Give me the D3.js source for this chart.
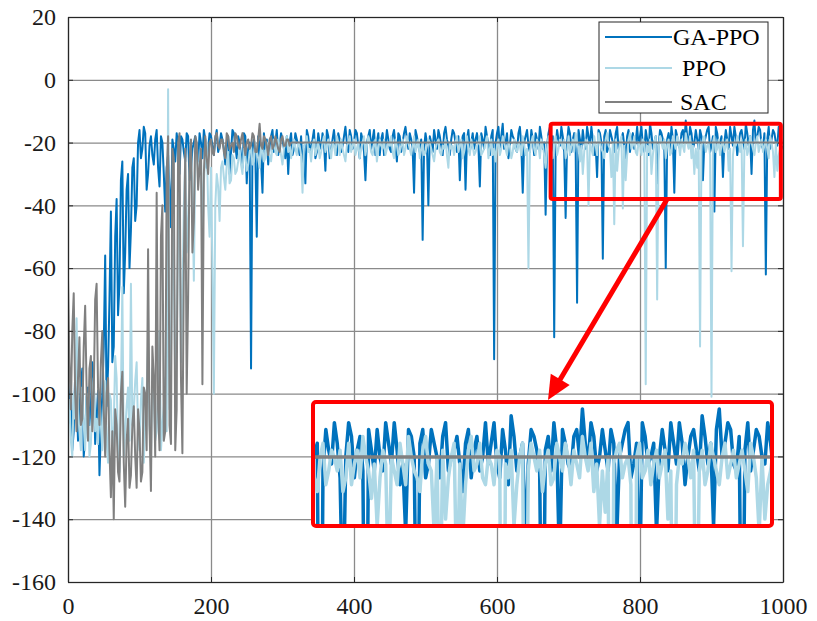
<!DOCTYPE html>
<html>
<head>
<meta charset="utf-8">
<title>Reward curves</title>
<script src="https://d3js.org/d3.v7.min.js"></script>
<style>
  body { margin: 0; background: #fff; }
  text { font-family: "Liberation Serif", "Times New Roman", serif; }
</style>
</head>
<body>
<script>
    // reward per episode, one value every 2 episodes (episode = index * 2)
    var gaPpo = [
        -110, -102, -96, -118, -112, -94, -100, -115, -105, -98, -92, -120, -114, -101, -98, -110, -104, -90, -95, -116, -108,
        -99, -126, -112, -100, -85, -56, -104, -92,
        -70, -42, -90, -85, -50, -38, -75, -65, -32, -26, -68, -55, -35, -30, -60, -48, -28, -25, -45, -40,
        -20, -16, -25, -22, -15, -17, -35, -30, -21, -18, -24, -27, -19, -16, -28, -34, -18, -20, -30, -42,
        -28, -24, -35, -47, -19, -22, -26, -17, -21, -30, -18, -19, -23, -26, -17, -18, -32, -29, -22, -20,
        -18, -22, -26, -17, -20, -25, -16, -19, -28, -22, -17, -18, -21, -24, -19, -16, -23, -21, -17, -19,
        -22, -27, -20, -18, -30, -23, -16, -17, -21, -25, -18, -20, -24, -28, -17, -18, -33, -22, -20, -92,
        -21, -19, -24, -50, -18, -21, -26, -36, -17, -22,
        -19, -27, -21, -18, -16, -23, -20, -16, -24, -21, -17, -19, -22, -25, -18, -30, -20, -17, -24, -22,
        -17, -19, -21, -24, -18, -28, -22, -33, -16, -18, -23, -21, -19, -16, -25, -23, -17, -20, -22, -17,
        -20, -29, -16, -18, -25, -22, -19, -16, -21, -24, -17, -19, -23, -21, -18, -15, -20, -23, -16, -18,
        -22, -20, -16, -17, -21, -25, -17, -19, -23, -32, -20, -18, -16, -22, -19, -16, -24, -20, -17, -24,
        -19, -17, -24, -21, -16, -19, -22, -23, -18, -16, -21, -26, -17, -18, -23, -20, -17, -15, -19, -22,
        -17, -19, -22, -36, -16, -18, -21, -23, -19, -51, -22, -17, -20, -40, -18, -20, -23, -16, -19, -22,
        -16, -18, -21, -24, -17, -15, -19, -21, -24, -19, -16, -17, -20, -23, -18, -32, -21, -18, -17, -35,
        -19, -16, -23, -20, -17, -22, -19, -17, -21, -34, -17, -19, -22, -15, -18, -21, -24, -18, -16, -89,
        -20, -17, -15, -22, -18, -14, -22, -20, -17, -25, -21, -16, -18, -19, -22, -23, -17, -15, -21, -36,
        -20, -18, -16, -21, -23, -16, -19, -24, -17, -19, -22, -15, -18, -22, -20, -43, -21, -17, -15, -20,
        -18, -82, -22, -16, -19, -21, -15, -18, -23, -44, -20, -15, -17, -23, -19, -17, -22, -71, -16, -19,
        -22, -16, -20, -22, -15, -18, -21, -15, -19, -24, -21, -31, -16, -17, -20, -57, -18, -16, -23, -21,
        -16, -18, -20, -23, -17, -15, -22, -20, -19, -17, -21, -25, -18, -16, -23, -19, -17, -22, -20, -15,
        -21, -18, -15, -21, -23, -16, -19, -24, -14, -17, -22, -20, -18, -33, -21, -16, -17, -19, -22, -60,
        -19, -17, -22, -15, -19, -36, -16, -18, -21, -22, -17, -16, -20, -13, -18, -21, -15, -17, -22, -20,
        -16, -19, -22, -16, -18, -32, -20, -18, -16, -15, -23, -21, -18, -42, -15, -17, -21, -20, -18, -31,
        -20, -16, -19, -22, -15, -18, -21, -15, -18, -24, -20, -17, -16, -19, -22, -14, -17, -21, -18, -30,
        -16, -13, -20, -18, -15, -16, -21, -22, -17, -62, -19, -15, -22, -19, -16, -17, -20, -21, -15, -18, -22, -20
    ];

    var ppo = [
        -110, -102, -115, -120, -100, -108, -76, -105, -112, -118, -98, -110, -118, -100, -104, -120, -116, -102, -95, -112, -108,
        -116, -100, -110, -118, -104, -96, -115, -122, -100, -102, -120, -110, -88, -95, -118, -125, -100, -66, -120, -112,
        -104, -98, -115, -65, -110, -105, -96, -90, -112, -118, -102, -95, -122, -108, -100, -84, -110, -120, -92, -100,
        -115, -112, -100, -80, -118, -110, -104, -95, -112, -3, -105, -90, -45, -60, -98, -85, -50, -35, -90, -70,
        -40, -25, -55, -45, -30, -22, -35, -64, -26, -20, -28, -30, -22, -52, -33, -24, -20, -40, -50, -28,
        -60, -100, -40, -30, -34, -45, -28, -26, -31, -35, -27, -23, -33, -32, -24, -25, -30, -29, -26, -22,
        -27, -30, -22, -24, -29, -27, -23, -21, -27, -26, -20, -23, -25, -28, -21, -22, -26, -25,
        -20, -22, -24, -26, -21, -19, -23, -24, -19, -21, -24, -27, -22, -20, -18, -23, -21, -25, -22, -19,
        -22, -24, -20, -21, -24, -36, -21, -20, -18, -23, -22, -26, -21, -19, -24, -22, -20, -25, -23, -20,
        -18, -23, -21, -19, -22, -25, -20, -21, -24, -18, -20, -24, -19, -22, -24, -26, -21, -20, -18, -23,
        -21, -19, -24, -22, -20, -25, -22, -20, -18, -24, -21, -18, -20, -23, -24, -21, -19, -26, -22, -19,
        -21, -22, -19, -24, -22, -20, -21, -18, -23, -25, -19, -21, -24, -23, -21, -19, -24, -22, -18, -20,
        -22, -24, -21, -18, -23, -21, -19, -25, -22, -20, -24, -23, -21, -19, -20, -22, -24, -26, -22, -20,
        -19, -23, -24, -21, -22, -19, -24, -28, -20, -22, -21, -24, -20, -18, -23, -21, -19, -25, -23, -20,
        -18, -22, -24, -19, -21, -24, -23, -21, -20, -18, -24, -23, -22, -20, -18, -25, -22, -19, -24, -22,
        -26, -21, -19, -24, -22, -18, -20, -22, -24, -20, -21, -25, -23, -19, -22, -23, -20, -21, -24, -18,
        -21, -24, -22, -60, -23, -20, -18, -22, -24, -19, -21, -25, -19, -21, -24, -28, -22, -18, -20, -23,
        -25, -20, -18, -24, -22, -19, -20, -22, -19, -25, -23, -18, -24, -21, -19, -23, -17, -20, -22, -26,
        -21, -30, -23, -19, -21, -40, -20, -22, -24, -18, -21, -24, -17, -20, -22, -23, -25, -19, -17, -21,
        -22, -31, -20, -46, -19, -29, -23, -20, -18, -41, -21, -32, -24, -19, -17, -22, -21, -18, -23, -24,
        -20, -21, -24, -19, -20, -97, -21, -23, -19, -30, -24, -20, -18, -70, -22, -18, -20, -22, -19, -25,
        -21, -19, -24, -23, -18, -20, -22, -18, -20, -24, -19, -21, -23, -17, -20, -22, -18, -25, -21, -30,
        -22, -28, -20, -85, -21, -19, -18, -23, -21, -20, -24, -101, -20, -18, -23, -22, -19, -24, -21, -19,
        -23, -21, -19, -29, -22, -61, -24, -20, -21, -18, -20, -23, -19, -53, -22, -19, -24, -22, -18, -20,
        -22, -24, -20, -18, -23, -21, -19, -23, -21, -19, -22, -25, -18, -20, -23, -31, -20, -29, -24, -22, -19, -21
    ];

    var sac = [
        -63, -90, -105, -80, -68, -100, -112, -95, -82, -110, -108, -85, -72, -98, -115, -92, -88, -112, -100, -70,
        -65, -98, -110, -90, -80, -105, -120, -100, -95, -118, -133, -112, -140, -105, -110, -125, -128, -100, -93, -122,
        -136, -115, -108, -130, -126, -110, -104, -120, -130, -105, -112, -128, -125, -98, -100, -118, -54, -110, -131, -85,
        -95, -120, -36, -105, -118, -50, -40, -115, -112, -30, -18, -110, -116, -22, -25, -118, -105, -20, -17, -95,
        -119, -60, -22, -100, -70, -25, -19, -55, -45, -18, -20, -35, -28, -22, -97, -30, -18, -25, -30, -20,
        -19, -23, -24, -18, -17, -21, -22, -19, -19, -23, -25, -17, -18, -22, -21, -20, -23, -17, -18, -21,
        -22, -19, -17, -21, -24, -20, -19, -22, -21, -17, -18, -23, -23, -19, -14, -21, -22, -18, -19, -21,
        -24, -19, -18, -22, -21, -18, -20, -22, -23, -19, -18, -21, -21, -19, -19, -21, -20
    ];
    var sacSettled = -20;   // SAC stays flat at this value until episode 1000

    var seriesNames = ["GA-PPO", "PPO", "SAC"];
    var xTicks = [0, 200, 400, 600, 800, 1000];
    var yTicks = [20, 0, -20, -40, -60, -80, -100, -120, -140, -160];
    var zoomEpisodes = [675, 997];
    var zoomBox = [-14, -38];         // red box drawn on the main plot
    var zoomInsetRange = [-30, -12];  // y range shown in the enlarged inset

    var width = 817,
        height = 621,
        plotLeft = 68, plotRight = 783, plotTop = 17, plotBottom = 582,
        colors = ["#0072BD", "#ADD8E6", "#808080"],
        gridColor = "#8a8a8a",
        axisColor = "#262626",
        red = "#ff0000",
        serif = "'Liberation Serif', 'Times New Roman', serif",
        step = 2;

    function toPoints(values) {
        return values.map(function (v, i) { return {ep: i * step, v: v}; });
    }
    var series = [toPoints(gaPpo), toPoints(ppo), toPoints(sac).concat([{ep: 1000, v: sacSettled}])];

    var svg = d3.select("body").append("svg")
        .attr("width", width)
        .attr("height", height);

    var x = d3.scaleLinear().domain([0, 1000]).range([plotLeft, plotRight]);
    var y = d3.scaleLinear().domain([-160, 20]).range([plotBottom, plotTop]);

    // grid
    svg.append("g")
        .attr("transform", "translate(0," + plotBottom + ")")
        .call(d3.axisBottom(x).tickValues(xTicks).tickSize(-(plotBottom - plotTop)).tickFormat(""))
        .call(function (g) {
            g.select(".domain").remove();
            g.selectAll("line").attr("stroke", gridColor).attr("stroke-width", 1.3);
        });
    svg.append("g")
        .attr("transform", "translate(" + plotLeft + ",0)")
        .call(d3.axisLeft(y).tickValues(yTicks).tickSize(-(plotRight - plotLeft)).tickFormat(""))
        .call(function (g) {
            g.select(".domain").remove();
            g.selectAll("line").attr("stroke", gridColor).attr("stroke-width", 1.3);
        });

    svg.append("clipPath").attr("id", "plotClip")
        .append("rect")
        .attr("x", plotLeft).attr("y", plotTop)
        .attr("width", plotRight - plotLeft).attr("height", plotBottom - plotTop);

    var line = d3.line()
        .x(function (d) { return x(d.ep); })
        .y(function (d) { return y(d.v); });

    var plot = svg.append("g").attr("clip-path", "url(#plotClip)");
    series.forEach(function (s, k) {
        plot.append("path")
            .datum(s)
            .attr("fill", "none")
            .attr("stroke", colors[k])
            .attr("stroke-width", 2)
            .attr("stroke-linejoin", "round")
            .attr("d", line);
    });

    // axes with inward ticks on all four sides
    function styleAxis(g) {
        g.attr("font-family", serif).attr("font-size", 24);
        g.select(".domain").attr("stroke", axisColor).attr("stroke-width", 1.2);
        g.selectAll(".tick line").attr("stroke", axisColor);
        g.selectAll("text")
            .attr("fill", "#1a1a1a")
            .style("font-size", "24px")
            .style("font-family", serif);
    }
    var fmt = function (d) { return String(d); };
    svg.append("g")
        .attr("transform", "translate(0," + plotBottom + ")")
        .call(d3.axisBottom(x).tickValues(xTicks).tickSizeInner(-5).tickSizeOuter(0).tickPadding(15).tickFormat(fmt))
        .call(styleAxis);
    svg.append("g")
        .attr("transform", "translate(" + plotLeft + ",0)")
        .call(d3.axisLeft(y).tickValues(yTicks).tickSizeInner(-5).tickSizeOuter(0).tickPadding(12).tickFormat(fmt))
        .call(styleAxis);
    svg.append("g")
        .attr("transform", "translate(0," + plotTop + ")")
        .call(d3.axisTop(x).tickValues(xTicks).tickSizeInner(-5).tickSizeOuter(0).tickFormat(""))
        .call(styleAxis);
    svg.append("g")
        .attr("transform", "translate(" + plotRight + ",0)")
        .call(d3.axisRight(y).tickValues(yTicks).tickSizeInner(-5).tickSizeOuter(0).tickFormat(""))
        .call(styleAxis);

    // legend
    var legend = svg.append("g").attr("transform", "translate(599,22)");
    legend.append("rect")
        .attr("width", 169).attr("height", 91)
        .attr("fill", "#fff").attr("stroke", axisColor).attr("stroke-width", 1);
    var legendRows = [15, 46, 80];
    var legendTextX = [74, 83, 81];
    seriesNames.forEach(function (name, k) {
        legend.append("line")
            .attr("x1", 6).attr("x2", 73)
            .attr("y1", legendRows[k]).attr("y2", legendRows[k])
            .attr("stroke", colors[k]).attr("stroke-width", 2);
        legend.append("text")
            .attr("x", legendTextX[k]).attr("y", legendRows[k] + 8)
            .attr("fill", "#000")
            .style("font-size", "24px")
            .style("font-family", serif)
            .text(name);
    });

    // red box marking the zoomed region
    var bx0 = x(zoomEpisodes[0]), bx1 = x(zoomEpisodes[1]);
    var by0 = y(zoomBox[0]), by1 = y(zoomBox[1]);
    svg.append("rect")
        .attr("x", bx0).attr("y", by0)
        .attr("width", bx1 - bx0).attr("height", by1 - by0)
        .attr("rx", 2)
        .attr("fill", "none").attr("stroke", red).attr("stroke-width", 4);

    // inset with the enlarged region
    var ix0 = 313, ix1 = 772, iy0 = 402, iy1 = 526;
    var xi = d3.scaleLinear().domain(zoomEpisodes).range([ix0, ix1]);
    var yi = d3.scaleLinear().domain(zoomInsetRange).range([iy1, iy0]);

    svg.append("rect")
        .attr("x", ix0).attr("y", iy0)
        .attr("width", ix1 - ix0).attr("height", iy1 - iy0)
        .attr("fill", "#fff");
    svg.append("clipPath").attr("id", "insetClip")
        .append("rect")
        .attr("x", ix0).attr("y", iy0)
        .attr("width", ix1 - ix0).attr("height", iy1 - iy0);

    var insetLine = d3.line()
        .x(function (d) { return xi(d.ep); })
        .y(function (d) { return yi(d.v); });
    var inset = svg.append("g").attr("clip-path", "url(#insetClip)");
    var insetWidths = [3.5, 3.5, 3.5];
    series.forEach(function (s, k) {
        var part = s.filter(function (d) { return d.ep >= zoomEpisodes[0] - step && d.ep <= zoomEpisodes[1] + step; });
        if (k === 2) {
            part = [{ep: zoomEpisodes[0], v: sacSettled}, {ep: zoomEpisodes[1], v: sacSettled}];
        }
        inset.append("path")
            .datum(part)
            .attr("fill", "none")
            .attr("stroke", colors[k])
            .attr("stroke-width", insetWidths[k])
            .attr("stroke-linejoin", "round")
            .attr("d", insetLine);
    });
    svg.append("rect")
        .attr("x", ix0).attr("y", iy0)
        .attr("width", ix1 - ix0).attr("height", iy1 - iy0)
        .attr("rx", 3)
        .attr("fill", "none").attr("stroke", red).attr("stroke-width", 4);

    // arrow from the red box down to the inset
    var sx = x(838), sy = by1;
    var tx = 548, ty = iy0 - 2;
    var dx = tx - sx, dy = ty - sy, len = Math.sqrt(dx * dx + dy * dy);
    var ux = dx / len, uy = dy / len;
    var headLen = 24, headHalf = 11;
    var baseX = tx - ux * headLen, baseY = ty - uy * headLen;
    svg.append("line")
        .attr("x1", sx).attr("y1", sy)
        .attr("x2", baseX + ux * 2).attr("y2", baseY + uy * 2)
        .attr("stroke", red).attr("stroke-width", 5);
    svg.append("path")
        .attr("d", "M" + tx + "," + ty +
            "L" + (baseX - uy * headHalf) + "," + (baseY + ux * headHalf) +
            "L" + (baseX + uy * headHalf) + "," + (baseY - ux * headHalf) + "Z")
        .attr("fill", red);
</script>
</body>
</html>
